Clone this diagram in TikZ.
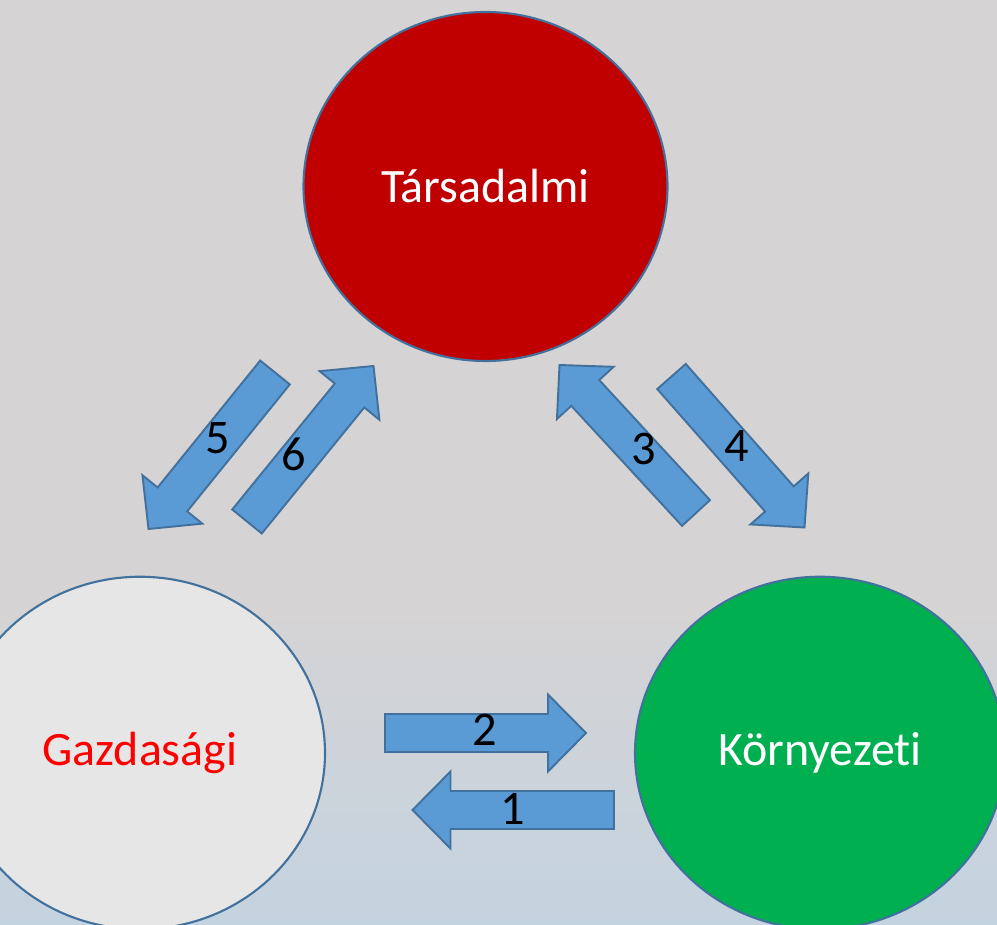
\documentclass[tikz,border=0pt]{standalone}
\usepackage{fontspec}
\setmainfont{Carlito}[Ligatures=NoCommon]
\usepackage[HTML]{xcolor}
\usepackage{tikz}
\usetikzlibrary{positioning, calc, shapes.geometric}

\definecolor{bgtop}{HTML}{D5D3D4}
\definecolor{bgbottom}{HTML}{C4D3E0}
\definecolor{socred}{HTML}{C00000}
\definecolor{envgreen}{HTML}{00B050}
\definecolor{ecogray}{HTML}{E7E6E6}
\definecolor{edgeblue}{HTML}{41719C}
\definecolor{flowblue}{HTML}{5B9BD5}

% block arrow from tail (#1) to tip (#2)
\newcommand{\flowarrow}[2]{%
  \draw[flow] let \p1=($(#2)-(#1)$), \n1={atan2(\y1,\x1)} in
    ($(#1)+(\n1+90:0.38cm)$)
    -- ($(#2)+(\n1+180:0.76cm)+(\n1+90:0.38cm)$)
    -- ($(#2)+(\n1+180:0.76cm)+(\n1+90:0.77cm)$)
    -- (#2)
    -- ($(#2)+(\n1+180:0.76cm)+(\n1-90:0.77cm)$)
    -- ($(#2)+(\n1+180:0.76cm)+(\n1-90:0.38cm)$)
    -- ($(#1)+(\n1-90:0.38cm)$) -- cycle;}

\begin{document}
\begin{tikzpicture}[
  pillar/.style={ellipse, draw=edgeblue, line width=1.2pt, inner sep=0pt,
    font=\fontsize{27.3}{32}\selectfont},
  flow/.style={fill=flowblue, draw=edgeblue, line width=1.1pt, line join=miter},
  num/.style={font=\fontsize{27.5}{32}\selectfont, inner sep=0pt}
]
% Background
\useasboundingbox (0,0) rectangle (19.94,18.5);
\fill[bgtop] (0,0) rectangle (19.94,18.5);
\shade[top color=bgtop, bottom color=bgbottom] (0,0) rectangle (19.94,6.3);

% The three pillars
\node[pillar, fill=socred, text=white, minimum width=7.28cm, minimum height=6.98cm]
  (tars) at (9.71,14.77) {Társadalmi};
\node[pillar, fill=ecogray, text=red, minimum width=7.4cm, minimum height=7.05cm]
  (gazd) at (2.80,3.44) {Gazdasági};
\node[pillar, fill=envgreen, text=white, minimum width=7.4cm, minimum height=7.05cm]
  (korny) at (16.40,3.44) {Környezeti};

% Tail and tip of each flow
\coordinate (t1) at (12.28,2.30); \coordinate (h1) at (8.25,2.30);
\coordinate (t2) at (7.70,3.84);  \coordinate (h2) at (11.72,3.84);
\coordinate (t3) at (13.92,8.24); \coordinate (h3) at (11.19,11.20);
\coordinate (t4) at (13.43,10.97); \coordinate (h4) at (16.09,7.95);
\coordinate (t5) at (5.50,11.05); \coordinate (h5) at (2.97,7.92);
\coordinate (t6) at (4.94,8.07);  \coordinate (h6) at (7.47,11.18);

% Flows between the pillars
\foreach \i in {1,...,6} {\flowarrow{t\i}{h\i}}

% Flow numbers
\node[num] (n1) at (10.25,2.33) {1};
\node[num] (n2) at (9.70,3.90) {2};
\node[num] (n3) at (12.87,9.52) {3};
\node[num] (n4) at (14.73,9.58) {4};
\node[num] (n5) at (4.35,9.73) {5};
\node[num] (n6) at (5.88,9.42) {6};
\end{tikzpicture}
\end{document}
